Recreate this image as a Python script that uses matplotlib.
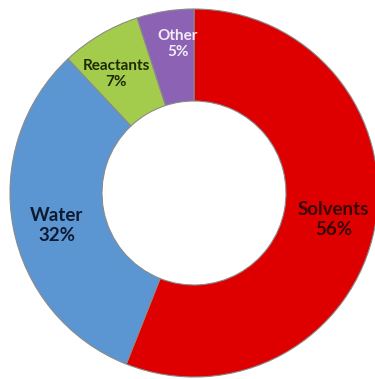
import numpy as np
import matplotlib.pyplot as plt

# waste composition shares (percent)
labels = ["Solvents", "Water", "Reactants", "Other"]
shares = [56, 32, 7, 5]
colors = ["#DE0000", "#5B96D3", "#A4CC4C", "#8C62B5"]
text_colors = ["#3A0505", "#0E1A30", "#1E2A08", "#F2ECF8"]
# label placement: radius, angle nudge (deg), font size
label_r = [142, 141, 142, 150]
label_da = [0, 2.6, 2.6, -2.8]
label_fs = [13.5, 13.5, 11, 11]

fig = plt.figure(figsize=(3.75, 3.79), dpi=100)
ax = fig.add_axes([0, 0, 1, 1])

cx, cy, R = 194, 379 - 193, 184
wedges, _ = ax.pie(shares, colors=colors, startangle=90, counterclock=False,
                   center=(cx, cy), radius=R,
                   wedgeprops=dict(width=92, edgecolor="#8a8a8a", linewidth=0.8))

start = 90.0
for name, val, tc, r, da, fs in zip(labels, shares, text_colors,
                                    label_r, label_da, label_fs):
    mid = np.deg2rad(start - val * 3.6 / 2 + da)
    start -= val * 3.6
    x = cx + r * np.cos(mid)
    y = cy + r * np.sin(mid)
    ax.text(x, y, f"{name}\n{val}%", ha="center", va="center",
            fontsize=fs, fontweight="bold", color=tc, family="Lato",
            linespacing=1.2)

ax.set_xlim(0, 375)
ax.set_ylim(0, 379)
ax.set_aspect("equal")
ax.axis("off")

fig.savefig("out.png", dpi=100)
